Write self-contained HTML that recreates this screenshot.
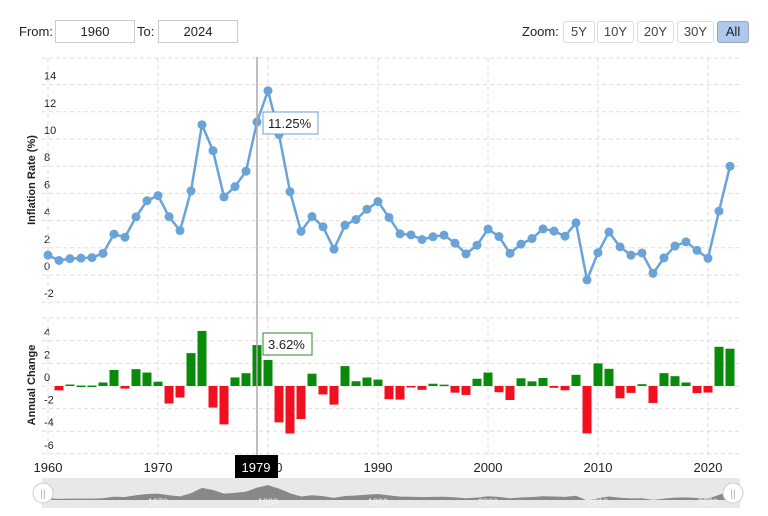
<!DOCTYPE html>
<html><head><meta charset="utf-8"><style>
body{margin:0;width:768px;height:516px;background:#fff;font-family:"Liberation Sans",sans-serif;overflow:hidden;position:relative}
.t{position:absolute;font-size:13px;color:#222}
.box{position:absolute;border:1px solid #ccc;height:21px;font-size:13px;text-align:center;line-height:21px;color:#222}
.btn{position:absolute;top:21px;height:20px;border:1px solid #ddd;border-radius:3px;font-size:13px;text-align:center;line-height:20px;color:#444}
</style></head><body>
<div class="t" style="left:19px;top:24px">From:</div>
<div class="box" style="left:55px;top:20px;width:78px">1960</div>
<div class="t" style="left:137px;top:24px">To:</div>
<div class="box" style="left:158px;top:20px;width:78px">2024</div>
<div class="t" style="left:522px;top:24px">Zoom:</div>
<div class="btn" style="left:563px;width:30px">5Y</div>
<div class="btn" style="left:597px;width:35px">10Y</div>
<div class="btn" style="left:637px;width:35px">20Y</div>
<div class="btn" style="left:677px;width:35px">30Y</div>
<div class="btn" style="left:717px;width:30px;background:#aec8ee;border-color:#9ab;color:#222">All</div>
<svg id="s" width="768" height="516" style="position:absolute;left:0;top:0"></svg>
<script>
var d=[1.46,1.07,1.20,1.24,1.28,1.59,3.01,2.78,4.27,5.46,5.84,4.29,3.27,6.18,11.05,9.14,5.74,6.50,7.63,11.25,13.55,10.33,6.13,3.21,4.30,3.55,1.90,3.66,4.08,4.83,5.40,4.23,3.03,2.95,2.61,2.81,2.93,2.34,1.55,2.19,3.38,2.83,1.59,2.27,2.68,3.39,3.23,2.85,3.84,-0.36,1.64,3.16,2.07,1.46,1.62,0.12,1.26,2.13,2.44,1.81,1.23,4.70,8.0];
function X(i){return 48+i*11}
function Y(v){return 275-v*13.6}
function B(v){return 386-v*11.3}
var h='';
var g='stroke="#ddd" stroke-dasharray="4,3"';
for(var v=-2;v<=14;v+=2){var y=Y(v);h+='<line x1="42" x2="740" y1="'+y+'" y2="'+y+'" '+g+'/>';h+='<text x="44" y="'+(y-5)+'" font-size="11" fill="#222">'+v+'</text>';}
h+='<line x1="42" x2="740" y1="58" y2="58" '+g+'/>';
for(v=-6;v<=4;v+=2){y=B(v);h+='<line x1="42" x2="740" y1="'+y+'" y2="'+y+'" '+g+'/>';h+='<text x="44" y="'+(y-5)+'" font-size="11" fill="#222">'+v+'</text>';}
h+='<line x1="42" x2="740" y1="318" y2="318" '+g+'/>';
for(var yr=1960;yr<=2020;yr+=10){var x=X(yr-1960);h+='<line x1="'+x+'" x2="'+x+'" y1="58" y2="305" '+g+'/><line x1="'+x+'" x2="'+x+'" y1="318" y2="455" '+g+'/>';h+='<text x="'+x+'" y="472" font-size="13" fill="#222" text-anchor="middle">'+yr+'</text>';}
h+='<text transform="translate(35,180) rotate(-90)" font-size="11" font-weight="bold" text-anchor="middle" fill="#222">Inflation Rate (%)</text>';
h+='<text transform="translate(35,385) rotate(-90)" font-size="11" font-weight="bold" text-anchor="middle" fill="#222">Annual Change</text>';
for(var i=1;i<d.length;i++){var c=d[i]-d[i-1];var y0=B(0),y1=B(c);h+='<rect x="'+(X(i)-4.5)+'" y="'+Math.min(y0,y1)+'" width="9" height="'+Math.max(1.5,Math.abs(y1-y0))+'" fill="'+(c>=0?'#0a8a0a':'#f01020')+'"/>';}
var p='';for(i=0;i<d.length;i++)p+=(i?'L':'M')+X(i)+','+Y(d[i]);
h+='<path d="'+p+'" fill="none" stroke="#6aa3d8" stroke-width="2.5"/>';
for(i=0;i<d.length;i++)h+='<circle cx="'+X(i)+'" cy="'+Y(d[i])+'" r="4.5" fill="#6aa3d8"/>';
h+='<line x1="257" x2="257" y1="57" y2="460" stroke="#aaa" stroke-width="1.5"/>';
h+='<rect x="263" y="112" width="55" height="22" fill="#fff" stroke="#6aa3d8"/><text x="268" y="128" font-size="13" fill="#222">11.25%</text>';
h+='<rect x="263" y="333" width="49" height="22" fill="#fff" stroke="#2a8a2a"/><text x="268" y="349" font-size="13" fill="#222">3.62%</text>';
h+='<rect x="235" y="455" width="43" height="23" fill="#000"/><text x="256" y="472" font-size="13" fill="#fff" text-anchor="middle">1979</text>';
h+='<rect x="42" y="478" width="698" height="30" fill="#e8e8e8"/>';
var a='M42,500';for(i=0;i<d.length;i++)a+='L'+X(i)+','+(500-d[i]*1.1);a+='L740,500Z';
h+='<path d="'+a+'" fill="#888"/>';
h+='<rect x="42" y="500" width="698" height="8" fill="#e8e8e8"/>';
for(yr=1970;yr<=2020;yr+=10){h+='<text x="'+X(yr-1960)+'" y="505" font-size="9" fill="#f5f5f5" text-anchor="middle">'+yr+'</text>';}
h+='<circle cx="43" cy="493" r="10" fill="#fff" stroke="#ccc"/><text x="43" y="497" font-size="10" fill="#aaa" text-anchor="middle">||</text>';
h+='<circle cx="733" cy="493" r="10" fill="#fff" stroke="#ccc"/><text x="733" y="497" font-size="10" fill="#aaa" text-anchor="middle">||</text>';
document.getElementById('s').innerHTML=h;
</script>
</body></html>
